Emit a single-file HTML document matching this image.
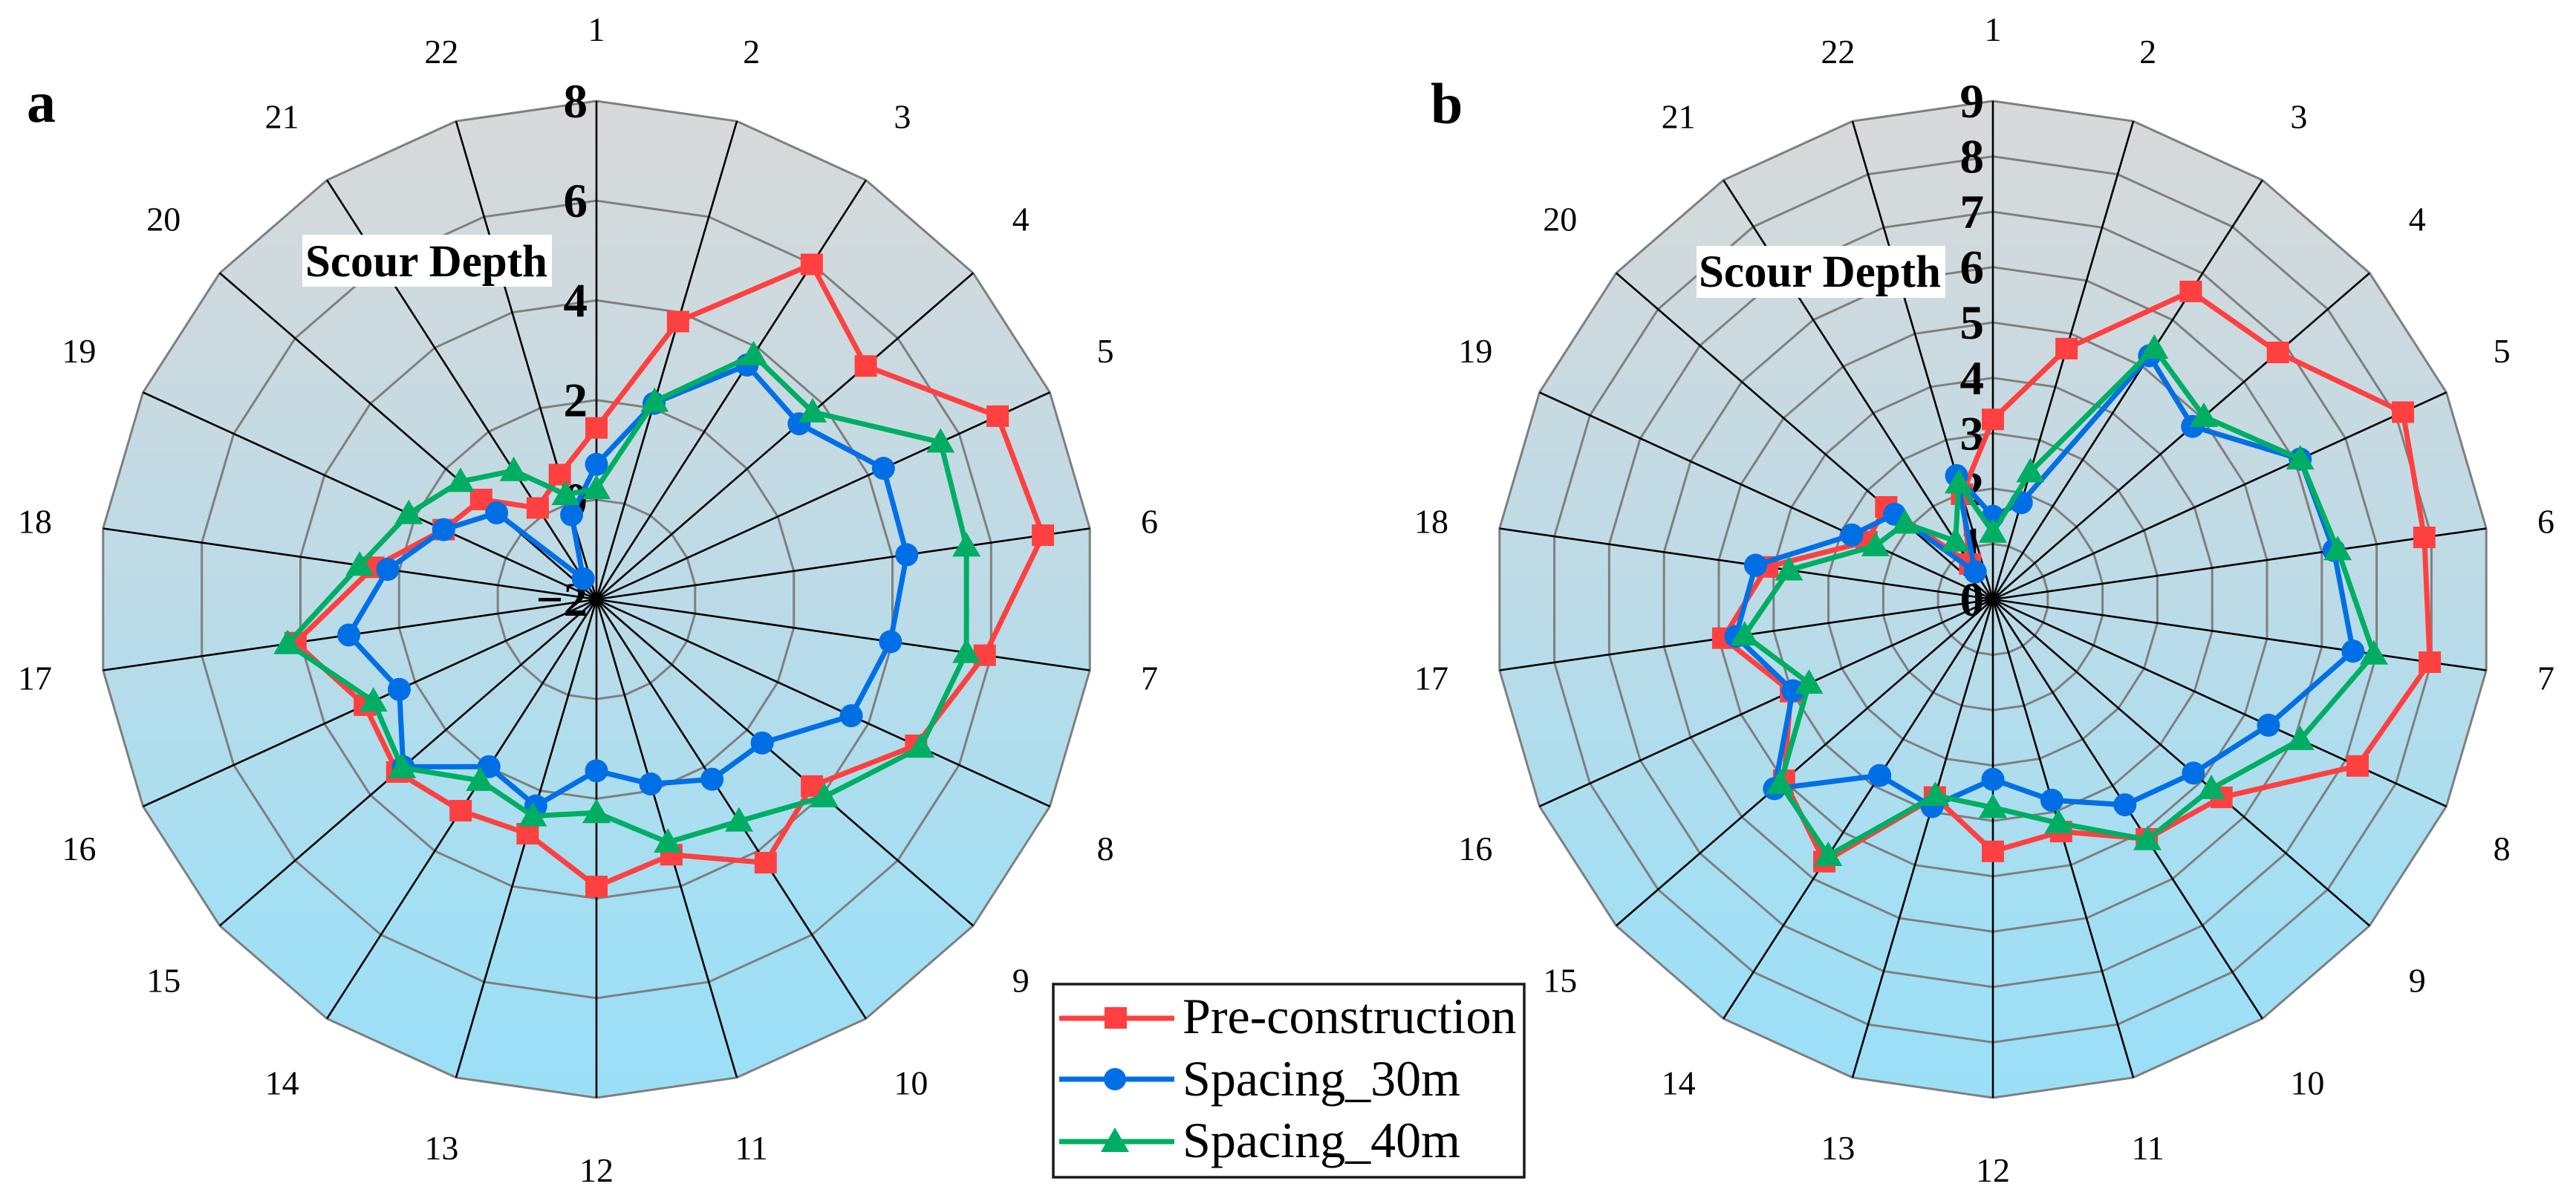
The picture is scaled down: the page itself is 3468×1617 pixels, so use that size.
<!DOCTYPE html>
<html lang="en">
<head>
<meta charset="utf-8">
<title>Scour Depth radar charts</title>
<style>
  html, body { margin: 0; padding: 0; background: #ffffff; }
  #figure { display: block; width: 3468px; height: 1617px; font-family: "Liberation Serif", serif; }
  text { font-family: "Liberation Serif", serif; fill: #000000; }
  .cat { font-size: 46px; text-anchor: middle; }
  .tick { font-size: 65px; font-weight: bold; text-anchor: end; }
  .title { font-size: 61px; font-weight: bold; }
  .letter { font-size: 78px; font-weight: bold; }
  .legend-text { font-size: 68px; }
</style>
</head>
<body>
<svg id="figure" xmlns="http://www.w3.org/2000/svg" width="3468" height="1617" viewBox="0 0 3468 1617">
  <defs>
    <linearGradient id="plotFill" x1="0" y1="0" x2="0" y2="1">
      <stop offset="0" stop-color="#d9d9d9"/>
      <stop offset="0.5" stop-color="#bcdbe7"/>
      <stop offset="0.8" stop-color="#a4dff3"/>
      <stop offset="1" stop-color="#9adff7"/>
    </linearGradient>
  </defs>
  <rect x="0" y="0" width="3468" height="1617" fill="#ffffff"/>
  <g id="panel-a"></g>
  <g id="panel-b"></g>

  <text class="letter" x="36" y="164">a</text>
  <text class="letter" x="1926" y="166">b</text>

  <g>
    <rect x="407" y="316" width="336" height="70" fill="#ffffff"/>
    <text class="title" x="411" y="372">Scour Depth</text>
  </g>
  <g>
    <rect x="2284" y="331" width="335" height="70" fill="#ffffff"/>
    <text class="title" x="2287" y="386">Scour Depth</text>
  </g>

  <g>
    <rect x="1418" y="1325" width="634" height="260" fill="#ffffff" stroke="#1a1a1a" stroke-width="3.5"/>
    <g>
      <line x1="1426" y1="1371" x2="1581" y2="1371" stroke="#ff4040" stroke-width="7"/>
      <rect x="1487" y="1356" width="30" height="29" fill="#ff4040"/>
      <text class="legend-text" x="1592" y="1391">Pre-construction</text>
    </g>
    <g>
      <line x1="1426" y1="1453" x2="1581" y2="1453" stroke="#006fe5" stroke-width="7"/>
      <circle cx="1501" cy="1453" r="15" fill="#006fe5"/>
      <text class="legend-text" x="1592" y="1475">Spacing_30m</text>
    </g>
    <g>
      <line x1="1426" y1="1537" x2="1581" y2="1537" stroke="#00ae63" stroke-width="7"/>
      <polygon points="1501,1518 1520,1551 1482,1551" fill="#00ae63"/>
      <text class="legend-text" x="1592" y="1558">Spacing_40m</text>
    </g>
  </g>
</svg>
<script>
const categories = [1,2,3,4,5,6,7,8,9,10,11,12,13,14,15,16,17,18,19,20,21,22];

const ticksA = [-2,0,2,4,6,8];
const preA = [1.44,3.81,5.99,5.15,6.85,7.05,5.87,5.05,3.72,4.28,3.34,3.76,2.90,3.04,3.29,3.11,4.10,2.52,1.37,1.06,0.18,0.61];
const s30A = [0.71,2.10,3.59,3.38,4.33,4.29,3.96,3.62,2.40,2.29,1.86,1.44,2.32,1.99,3.13,2.35,3.02,2.23,1.37,0.65,-1.51,-0.23];
const s40A = [0.22,2.14,3.83,3.74,5.59,5.50,5.50,5.15,4.05,3.29,3.08,2.28,2.53,2.32,3.16,2.92,4.26,2.80,2.14,1.61,1.07,0.19];

const ticksB = [0,1,2,3,4,5,6,7,8,9];
const preB = [3.25,4.72,6.61,6.81,8.14,7.87,7.97,7.24,5.46,5.14,4.37,4.55,3.72,5.63,4.99,4.01,4.92,4.12,2.51,2.55,0.76,1.98];
const s30B = [1.50,1.82,5.23,4.77,6.10,6.22,6.57,5.47,4.79,4.41,3.78,3.25,3.90,3.78,5.22,3.97,4.69,4.33,2.80,2.35,0.59,2.33];
const s40B = [1.21,2.40,5.39,5.04,6.10,6.29,6.95,6.10,5.22,5.16,4.21,3.76,3.69,5.50,5.08,3.65,4.53,3.72,2.33,2.10,1.25,2.19];

const SVG_NS = 'http://www.w3.org/2000/svg';
const CY = 807;
const OUTER = 671;

function make(tag, attrs, parent) {
  const el = document.createElementNS(SVG_NS, tag);
  for (const key in attrs) { el.setAttribute(key, attrs[key]); }
  parent.appendChild(el);
  return el;
}
function angleOf(i) { return i * 2 * Math.PI / categories.length; }

function drawPanel(parent, cx, ticks, pre, s30, s40, key) {
  const min = ticks[0];
  const max = ticks[ticks.length - 1];
  const radius = function (v) { return OUTER * (v - min) / (max - min); };
  const px = function (i, v) { return cx + radius(v) * Math.sin(angleOf(i)); };
  const py = function (i, v) { return CY - radius(v) * Math.cos(angleOf(i)); };
  const polyPoints = function (values) {
    return values.map(function (v, i) { return px(i, v).toFixed(1) + ',' + py(i, v).toFixed(1); }).join(' ');
  };

  const bg = make('polygon', { points: polyPoints(categories.map(function () { return max; })), fill: 'url(#plotFill)', stroke: 'none' }, parent);
  
  

  ticks.forEach(function (t) {
    if (t === min) { return; }
    const ring = make('polygon', { points: polyPoints(categories.map(function () { return t; })), fill: 'none', stroke: '#7f7f7f', 'stroke-width': 3 }, parent);
    
    
  });

  categories.forEach(function (c, i) {
    const spoke = make('line', { x1: cx, y1: CY, x2: px(i, max), y2: py(i, max), stroke: '#000000', 'stroke-width': 2.6 }, parent);
    
    
  });

  categories.forEach(function (c, i) {
    const s = Math.sin(angleOf(i));
    const co = Math.cos(angleOf(i));
    const len = String(c).length;
    const ox = Math.abs(s) > 0.4 ? Math.sign(s) * len * 11.5 : 0;
    const oy = Math.abs(co) > 0.3 ? Math.sign(co) * 27.4 : 0;
    const label = make('text', { class: 'cat', x: cx + 740.6 * s + ox, y: CY - 740.6 * co - oy + 16 }, parent);
    label.textContent = String(c);
    
    
  });

  ticks.forEach(function (t) {
    const label = make('text', { class: 'tick', x: cx - 12, y: CY - radius(t) + 22 }, parent);
    label.textContent = t < 0 ? '\u2212' + Math.abs(t) : String(t);
    
    
  });

  const drawSeries = function (values, color, name, marker) {
    const group = make('g', {}, parent);
    
    
    const line = make('polygon', { points: polyPoints(values), fill: 'none', stroke: color, 'stroke-width': 7, 'stroke-linejoin': 'round' }, group);
    
    
    values.forEach(function (v, i) {
      const x = px(i, v);
      const y = py(i, v);
      let m;
      if (marker === 'square') {
        m = make('rect', { x: x - 15, y: y - 14.5, width: 30, height: 29, fill: color }, group);
      } else if (marker === 'circle') {
        m = make('circle', { cx: x, cy: y, r: 15.5, fill: color }, group);
      } else {
        m = make('polygon', { points: x + ',' + (y - 19) + ' ' + (x + 19) + ',' + (y + 14) + ' ' + (x - 19) + ',' + (y + 14), fill: color }, group);
      }
      
      
    });
  };

  drawSeries(pre, '#ff4040', 'pre-construction', 'square');
  drawSeries(s30, '#006fe5', 'spacing-30m', 'circle');
  drawSeries(s40, '#00ae63', 'spacing-40m', 'triangle');
}

drawPanel(document.getElementById('panel-a'), 803, ticksA, preA, s30A, s40A, 'a');
drawPanel(document.getElementById('panel-b'), 2683, ticksB, preB, s30B, s40B, 'b');
</script>
</body>
</html>
